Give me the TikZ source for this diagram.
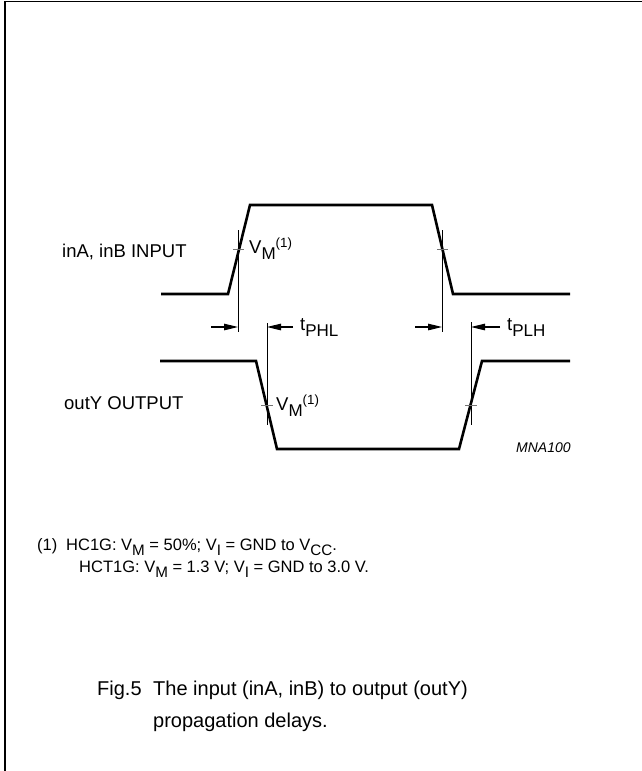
\documentclass[tikz,border=0pt]{standalone}
\usepackage{fontspec}
\setmainfont{Liberation Sans}
\usetikzlibrary{arrows.meta}
\newcommand\dn[1]{\raisebox{-0.36em}{\scalebox{0.92}{#1}}}
\newcommand\up[1]{\raisebox{0.3em}{\scalebox{0.72}{#1}}}
\tikzset{
  wave/.style={line width=2.6pt, line join=miter},
  vline/.style={line width=0.9pt},
  vmtick/.style={line width=0.9pt, black!55},
  dimarr/.style={-{Triangle[length=14pt,width=6.5pt]}, line width=1.2pt},
  lbl/.style={font=\fontsize{18.5}{22}\selectfont, inner sep=0pt, anchor=base west},
  note/.style={font=\fontsize{16.5}{20}\selectfont, inner sep=0pt, anchor=base west},
  capn/.style={font=\fontsize{20}{24}\selectfont, inner sep=0pt, anchor=base west},
}
\begin{document}
\begin{tikzpicture}[x=1pt,y=-1pt]
\useasboundingbox (0,0) rectangle (641,771);
\draw[line width=1.8pt] (5,772) -- (5,1.5) -- (642,1.5);
% waveforms
\draw[wave] (161,294) -- (228,294) -- (250,205) -- (432,205) -- (453,294) -- (570,294);
\draw[wave] (160,361) -- (256,361) -- (277,449) -- (459,449) -- (482,361) -- (570,361);
% measuring lines
\coordinate (ir) at (238,327); \coordinate (if) at (442,327);
\coordinate (of) at (267,327); \coordinate (or) at (471,327);
\draw[vline] (238,230) -- (238,332); \draw[vline] (442,230) -- (442,332);
\draw[vline] (267,323) -- (267,425); \draw[vline] (471,322) -- (471,425);
\draw[vmtick] (233,249.5) -- (244,249.5); \draw[vmtick] (437,249.5) -- (448,249.5);
\draw[vmtick] (261,405) -- (273,405); \draw[vmtick] (465,405) -- (477,405);
\coordinate (a1) at (211,327); \coordinate (a2) at (293,327);
\coordinate (a3) at (415,327); \coordinate (a4) at (500,327);
\draw[dimarr] (a1) -- (ir); \draw[dimarr] (a2) -- (of);
\draw[dimarr] (a3) -- (if); \draw[dimarr] (a4) -- (or);
% labels
\node[lbl] (inlbl) at (62,257) {inA, inB INPUT};
\node[lbl] (outlbl) at (64,409) {outY OUTPUT};
\node[lbl] (vmin) at (249,253) {V\dn{M}\up{(1)}};
\node[lbl] (vmout) at (276,410) {V\dn{M}\up{(1)}};
\node[lbl] (tphl) at (300,330) {t\dn{PHL}};
\node[lbl] (tplh) at (507,330) {t\dn{PLH}};
\node[font=\fontsize{14}{16}\selectfont\itshape, inner sep=0pt, anchor=base west] (code) at (516,452) {MNA100};
% note
\node[note] (n1) at (37,550) {(1)};
\node[note] (n2) at (66,550) {HC1G: V\dn{M} = 50\%; V\dn{I} = GND to V\dn{CC}.};
\node[note] (n3) at (79,572) {HCT1G: V\dn{M} = 1.3 V; V\dn{I} = GND to 3.0 V.};
% caption
\node[capn] (fig) at (97,695) {Fig.5};
\node[capn] (cap1) at (153,695) {The input (inA, inB) to output (outY)};
\node[capn] (cap2) at (153,727) {propagation delays.};
\end{tikzpicture}
\end{document}
